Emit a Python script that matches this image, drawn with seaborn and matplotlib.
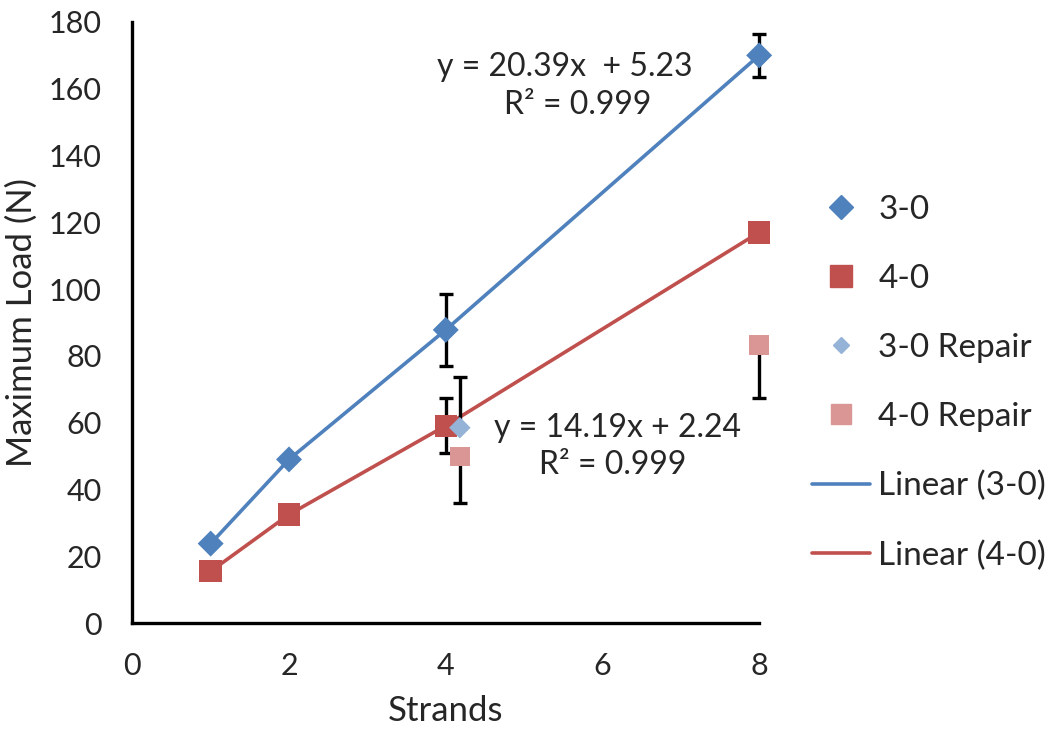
import seaborn as sns
import matplotlib.pyplot as plt
from matplotlib.lines import Line2D
import pandas as pd
import numpy as np

# ---- Data ----
strands = [1, 2, 4, 8]
load_30 = [23.8, 49.0, 87.8, 170.0]
load_40 = [15.5, 32.5, 59.1, 117.0]
err_30 = [0, 0, 10.7, 6.5]
err_40 = [0, 0, 8.2, 0]

repair_x_30 = [4.18]
repair_30 = [58.5]
repair_err_30 = [15.2]  # upper bar only

repair_x_40 = [4.18, 8]
repair_40 = [49.9, 83.3]
repair_err_40 = [13.8, 15.8]  # lower bars only

eq_30 = "y = 20.39x  + 5.23"
eq_40 = "y = 14.19x + 2.24"
r2_text = "R\u00b2 = 0.999"

c30, c40 = "#4F81BD", "#C0504D"
c30r, c40r = "#95B3D7", "#D99694"

df30 = pd.DataFrame({"Strands": strands, "Load": load_30})
df40 = pd.DataFrame({"Strands": strands, "Load": load_40})
dfr30 = pd.DataFrame({"Strands": repair_x_30, "Load": repair_30})
dfr40 = pd.DataFrame({"Strands": repair_x_40, "Load": repair_40})

# ---- Plot ----
sns.set_style("white")
plt.rcParams["font.family"] = ["Lato", "DejaVu Sans"]
fs_tick, fs_eq, fs_leg, fs_lab = 22, 23, 24, 25

fig = plt.figure(figsize=(10.5, 7.33), dpi=100)
ax = fig.add_axes([0.126, 0.150, 0.597, 0.820])

# trend lines
sns.lineplot(data=df30, x="Strands", y="Load", color=c30, lw=2.6, ax=ax, zorder=2)
sns.lineplot(data=df40, x="Strands", y="Load", color=c40, lw=2.6, ax=ax, zorder=2)

# error bars
ekw = dict(fmt="none", ecolor="black", elinewidth=2.4, capsize=5, capthick=2.4, zorder=3, clip_on=False)
m = np.array(err_30) > 0
ax.errorbar(np.array(strands)[m], np.array(load_30)[m], yerr=np.array(err_30)[m], **ekw)
m = np.array(err_40) > 0
ax.errorbar(np.array(strands)[m], np.array(load_40)[m], yerr=np.array(err_40)[m], **ekw)
ax.errorbar(repair_x_30, repair_30, yerr=[[0] * len(repair_err_30), repair_err_30], **ekw)
ax.errorbar(repair_x_40, repair_40, yerr=[repair_err_40, [0] * len(repair_err_40)], **ekw)

# markers
sns.scatterplot(data=df30, x="Strands", y="Load", marker="D", s=175, color=c30,
                edgecolor="none", ax=ax, zorder=4, clip_on=False)
sns.scatterplot(data=df40, x="Strands", y="Load", marker="s", s=260, color=c40,
                edgecolor="none", ax=ax, zorder=4, clip_on=False)
sns.scatterplot(data=dfr30, x="Strands", y="Load", marker="D", s=120, color=c30r,
                edgecolor="none", ax=ax, zorder=5, clip_on=False)
sns.scatterplot(data=dfr40, x="Strands", y="Load", marker="s", s=200, color=c40r,
                edgecolor="none", ax=ax, zorder=5, clip_on=False)

# equations
ax.text(5.52, 166.6, eq_30, ha="center", va="center", fontsize=fs_eq)
ax.text(5.69, 155.2, r2_text, ha="center", va="center", fontsize=fs_eq)
ax.text(6.19, 58.5, eq_40, ha="center", va="center", fontsize=fs_eq)
ax.text(6.13, 47.2, r2_text, ha="center", va="center", fontsize=fs_eq)

ax.set_xlim(0, 8)
ax.set_ylim(0, 180)
ax.set_xticks([0, 2, 4, 6, 8])
ax.set_yticks(range(0, 181, 20))
ax.tick_params(length=0, labelsize=fs_tick)
ax.tick_params(axis="y", pad=22)
ax.tick_params(axis="x", pad=21)
ax.set_xlabel("Strands", fontsize=fs_lab, labelpad=11)
ax.set_ylabel("Maximum Load (N)", fontsize=fs_lab, labelpad=8)
for side in ["top", "right"]:
    ax.spines[side].set_visible(False)
for side in ["left", "bottom"]:
    ax.spines[side].set_color("black")
    ax.spines[side].set_linewidth(2.4)

handles = [
    Line2D([], [], ls="none", marker="D", ms=12, color=c30),
    Line2D([], [], ls="none", marker="s", ms=16, color=c40),
    Line2D([], [], ls="none", marker="D", ms=8, color=c30r),
    Line2D([], [], ls="none", marker="s", ms=14, color=c40r),
    Line2D([], [], color=c30, lw=2.6),
    Line2D([], [], color=c40, lw=2.6),
]
labels = ["3-0", "4-0", "3-0 Repair", "4-0 Repair", "Linear (3-0)", "Linear (4-0)"]
fig.legend(handles, labels, loc="upper left", bbox_to_anchor=(0.773, 0.734),
           frameon=False, fontsize=fs_leg, labelspacing=1.17, handlelength=1.75,
           handletextpad=0.25, borderaxespad=0, borderpad=0)

plt.savefig("out.png", dpi=100)
plt.close()
